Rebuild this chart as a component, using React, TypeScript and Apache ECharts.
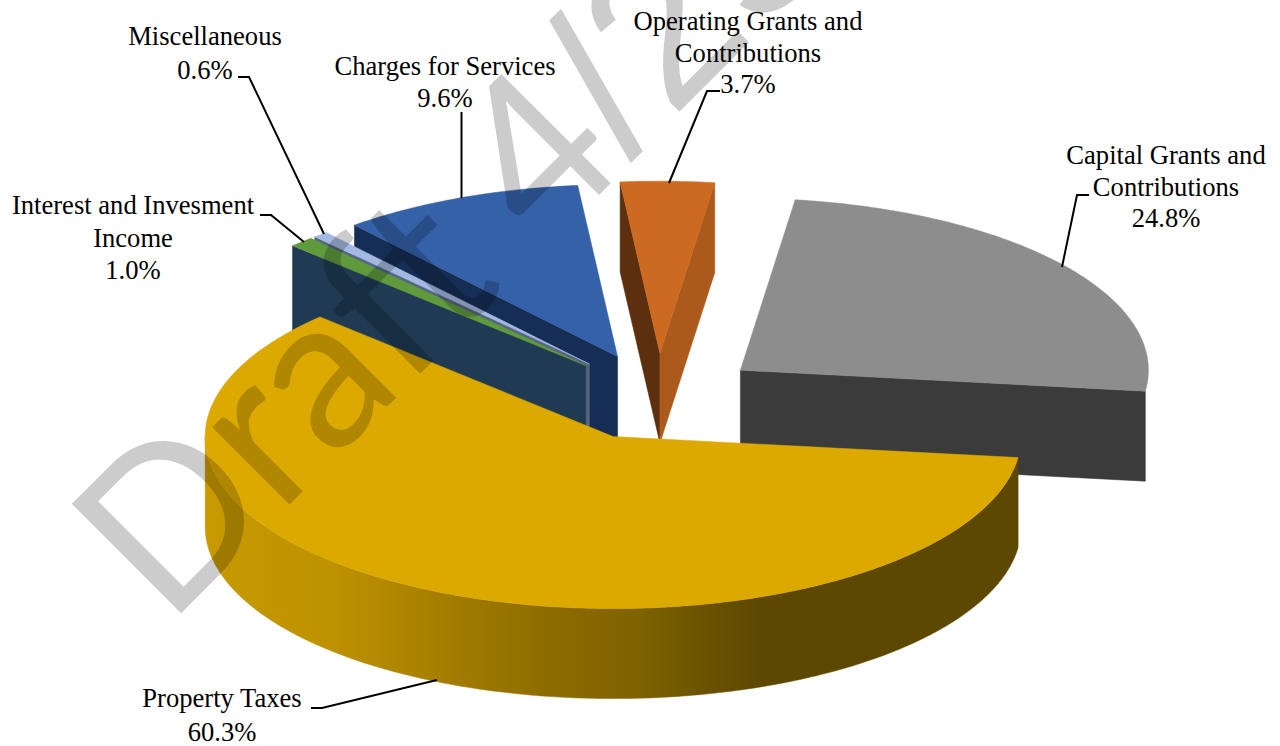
import React, { useEffect, useRef } from "react";
import * as echarts from "echarts";

const categories = [
  "Property Taxes",
  "Interest and Invesment Income",
  "Miscellaneous",
  "Charges for Services",
  "Operating Grants and Contributions",
  "Capital Grants and Contributions",
];
const values = [60.3, 1.0, 0.6, 9.6, 3.7, 24.8];
// label text broken in lines as printed
const labelLines = [
  ["Property Taxes"],
  ["Interest and Invesment", "Income"],
  ["Miscellaneous"],
  ["Charges for Services"],
  ["Operating Grants and", "Contributions"],
  ["Capital Grants and", "Contributions"],
];
const watermarkParts = ["Draft 4", "/25"];

// paint order back to front (indexes into categories)
const paintOrder = [4, 3, 2, 1, 5, 0];

const PIE = { cx: 658, cy: 397, rx: 408, ry: 172, depth: 90, explode: 0.255, firstAngle: 97 };

const goldRim = () =>
  new echarts.graphic.LinearGradient(204, 0, 1019, 0, [
    { offset: 0, color: "#c89a00" },
    { offset: 0.155, color: "#be9200" },
    { offset: 0.286, color: "#a67f00" },
    { offset: 0.412, color: "#8f6e00" },
    { offset: 0.535, color: "#7e6200" },
    { offset: 0.61, color: "#6c5300" },
    { offset: 0.682, color: "#5c4800" },
    { offset: 1, color: "#5c4800" },
  ], true);

const sliceStyles = [
  { top: "#dca900", start: "#8a6a00", end: "#8a6a00", rim: goldRim },
  { top: "#5f9a3c", start: "#1f3a52", end: "#1f3a52", rim: () => "#1f3a52" },
  { top: "#a3b9e2", start: "#56657f", end: "#56657f", rim: () => "#56657f" },
  { top: "#3461a8", start: "#162d55", end: "#162d55", rim: () => "#162d55" },
  { top: "#cc6a22", start: "#5c300e", end: "#ab5a1c", rim: () => "#ab5a1c" },
  { top: "#8d8d8d", start: "#3b3b3c", end: "#3b3b3c", rim: () => "#3b3b3c" },
];

const labelAnchors = [
  { x: 222, y: 698, gap: 33.5 },
  { x: 133, y: 205, gap: 32.5 },
  { x: 205, y: 36, gap: 34 },
  { x: 445, y: 66, gap: 32 },
  { x: 748, y: 21, gap: 31.5 },
  { x: 1166, y: 155, gap: 31.5 },
];

const leaders = [
  [[311, 708], [322, 708], [437, 680]],
  [[260, 215], [271, 215], [304, 242]],
  [[238, 77], [249, 77], [324, 234]],
  [[461.5, 112], [461.5, 198]],
  [[720, 91], [707, 91], [669, 183]],
  [[1089, 195], [1077, 195], [1062, 267]],
];

const total = values.reduce((a, b) => a + b, 0);
const startAngles: number[] = [];
values.reduce((acc, v, i) => {
  startAngles[i] = acc;
  return acc + (v / total) * 360;
}, PIE.firstAngle);

const rad = (d: number) => (d * Math.PI) / 180;

function renderSlice(params: any) {
  const idx = paintOrder[params.dataIndex];
  const a0 = startAngles[idx];
  const a1 = a0 + (values[idx] / total) * 360;
  const mid = (a0 + a1) / 2;
  const ax = PIE.cx + Math.sin(rad(mid)) * PIE.rx * PIE.explode;
  const ay = PIE.cy - Math.cos(rad(mid)) * PIE.ry * PIE.explode;
  const pt = (a: number, dz = 0) => [
    ax + Math.sin(rad(a)) * PIE.rx,
    ay - Math.cos(rad(a)) * PIE.ry + dz,
  ];
  const arc = (from: number, to: number, dz = 0) => {
    const out: number[][] = [];
    const n = Math.max(2, Math.ceil(Math.abs(to - from) * 1.5));
    for (let i = 0; i <= n; i++) out.push(pt(from + ((to - from) * i) / n, dz));
    return out;
  };
  const st = sliceStyles[idx];
  const children: any[] = [];
  const poly = (points: number[][], fill: any) =>
    children.push({ type: "polygon", shape: { points }, style: { fill, stroke: fill, lineWidth: 0.5 } });

  // radial cut faces, where they turn towards the viewer
  const faces = [
    { a: a0, normal: a0 - 90, fill: st.start },
    { a: a1, normal: a1 + 90, fill: st.end },
  ];
  faces.forEach((f) => {
    if (-Math.cos(rad(f.normal)) > 0) {
      const p = pt(f.a);
      const q = pt(f.a, PIE.depth);
      poly([[ax, ay], p, q, [ax, ay + PIE.depth]], f.fill);
    }
  });
  // outer rim: the part of the arc that faces front (90..270 degrees)
  const loA = Math.max(a0, 90);
  const hiA = Math.min(a1, 270);
  if (hiA > loA) {
    poly([...arc(loA, hiA), ...arc(hiA, loA, PIE.depth)], st.rim());
  }
  // top face
  poly([[ax, ay], ...arc(a0, a1)], st.top);
  return { type: "group", children };
}

export default function App() {
  const ref = useRef<HTMLDivElement>(null);
  useEffect(() => {
    document.body.style.margin = "0";
    const chart = echarts.init(ref.current!, null, { renderer: "svg" });
    const labelEls: any[] = [];
    categories.forEach((_, i) => {
      const a = labelAnchors[i];
      [...labelLines[i], `${values[i].toFixed(1)}%`].forEach((line, k) => {
        labelEls.push({
          type: "text",
          z: 120,
          style: {
            text: line,
            x: a.x,
            y: a.y + k * a.gap,
            fill: "#000000",
            fontFamily: "Liberation Serif",
            fontSize: 26.6,
            textAlign: "center",
            textVerticalAlign: "middle",
          },
        });
      });
    });
    const lineEls = leaders.map((points) => ({
      type: "polyline",
      z: 110,
      shape: { points },
      style: { stroke: "#000000", lineWidth: 2, fill: "none" },
    }));
    const wmStyle = { fill: "rgba(0,0,0,0.2)", fontSize: 216, textAlign: "left", textVerticalAlign: "middle" };
    chart.setOption({
      animation: false,
      backgroundColor: "#ffffff",
      series: [
        {
          type: "custom",
          coordinateSystem: "none",
          silent: true,
          z: 2,
          data: paintOrder.map((i) => ({ name: categories[i], value: values[i] })),
          renderItem: renderSlice,
        },
      ],
      graphic: [
        {
          type: "group",
          z: 100,
          x: 180,
          y: 609,
          rotation: Math.PI / 4,
          children: [
            {
              type: "text",
              z: 100,
              scaleX: 0.975,
              style: { ...wmStyle, text: watermarkParts[0], x: -22, y: -80, fontFamily: "Lato" },
            },
            {
              type: "text",
              z: 100,
              style: { ...wmStyle, text: watermarkParts[1], x: 634, y: -73.5, fontFamily: "Liberation Sans" },
            },
          ],
        },
        ...lineEls,
        ...labelEls,
      ],
    });
    return () => chart.dispose();
  }, []);
  return <div ref={ref} style={{ position: "absolute", left: 0, top: 0, width: 1280, height: 746 }} />;
}
